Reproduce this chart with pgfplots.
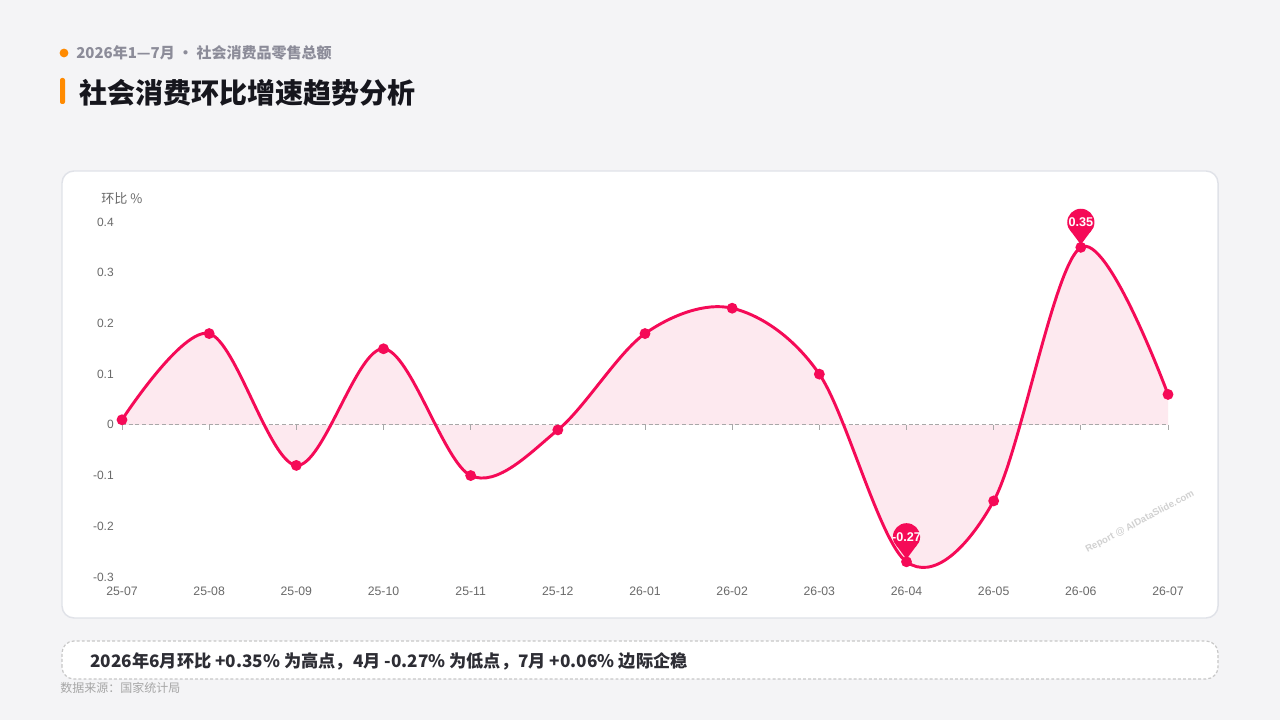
\documentclass[border=0pt]{standalone}
\usepackage{pgfplots}
\pgfplotsset{compat=1.18}
\usepackage{pgfplotstable}
\usepgfplotslibrary{fillbetween}
\usepackage{fontspec}
\setmainfont{Liberation Sans}
\newfontfamily\cjk{Noto Sans CJK SC}

\definecolor{bg}{HTML}{F4F4F6}
\definecolor{cardline}{HTML}{E0E2E8}
\definecolor{linec}{HTML}{F50A57}
\definecolor{fillc}{HTML}{FDE9EF}
\definecolor{orangec}{HTML}{FF8A00}
\definecolor{subgray}{HTML}{8C8C99}
\definecolor{titlec}{HTML}{16161D}
\definecolor{tickc}{HTML}{6A6A6A}
\definecolor{gridc}{HTML}{EBEBEB}
\definecolor{zeroc}{HTML}{A8A8A8}

% month index, MoM growth (%)
\pgfplotstableread{
x y
0 0.01
1 0.18
2 -0.08
3 0.15
4 -0.10
5 -0.01
6 0.18
7 0.23
8 0.10
9 -0.27
10 -0.15
11 0.35
12 0.06
}\mom

% value pin above a data point
\newcommand\pin[3]{%
  \fill[linec] ([yshift=2pt]axis cs:#1,#2) -- ([xshift=-7.4pt,yshift=12pt]axis cs:#1,#2)
     -- ([xshift=7.4pt,yshift=12pt]axis cs:#1,#2) -- cycle;
  \fill[linec] ([yshift=18.75pt]axis cs:#1,#2) circle (10.2pt);
  \node[text=white, inner sep=0pt, font=\bfseries\fontsize{9.5pt}{11pt}\selectfont]
    at ([yshift=18.75pt]axis cs:#1,#2) {#3};%
}

\begin{document}
\begin{tikzpicture}
% page and card (1px = 0.75pt)
\fill[bg] (0,0) rectangle (960pt,540pt);
\filldraw[fill=white, draw=cardline, line width=1.1pt, rounded corners=9pt]
  (46.5pt,76.5pt) rectangle (913.5pt,411.75pt);

% header
\fill[orangec] (48pt,500.25pt) circle (3.3pt);
\node[anchor=west, inner sep=0pt, text=subgray, font=\cjk\bfseries\fontsize{11.25pt}{14pt}\selectfont]
  at (57pt,500.25pt) {2026年1—7月 • 社会消费品零售总额};
\fill[orangec, rounded corners=1.5pt] (45pt,462pt) rectangle (48.75pt,481.5pt);
\node[anchor=west, inner sep=0pt, text=titlec, font=\cjk\bfseries\fontsize{21pt}{25pt}\selectfont]
  at (59.5pt,470.25pt) {社会消费环比增速趋势分析};

% y axis name
\node[anchor=west, inner sep=0pt, text=tickc, font=\cjk\fontsize{9.8pt}{12pt}\selectfont]
  at (75.75pt,390.75pt) {环比 \%};

\begin{axis}[
    at={(91.5pt,107.25pt)}, anchor=south west,
    scale only axis, width=784.5pt, height=266.25pt,
    xmin=0, xmax=12, ymin=-0.3, ymax=0.4,
    clip=false,
    axis line style={draw=none},
    major tick length=0pt,
    xtick={0,...,12},
    xticklabels={25-07,25-08,25-09,25-10,25-11,25-12,26-01,26-02,26-03,26-04,26-05,26-06,26-07},
    ytick={-0.3,-0.2,-0.1,0,0.1,0.2,0.3,0.4},
    yticklabels={-0.3,-0.2,-0.1,0,0.1,0.2,0.3,0.4},
    ymajorgrids=true,
    grid style={gridc, line width=0.75pt},
    xticklabel style={anchor=north, inner sep=0pt, yshift=-7.5pt, text=tickc, font=\fontsize{9.2pt}{11pt}\selectfont},
    yticklabel style={anchor=east, inner sep=0pt, xshift=-6pt, text=tickc, font=\fontsize{9pt}{11pt}\selectfont},
    fill between/on layer=main,
]
\addplot[name path=zero, draw=none, forget plot] coordinates {(0,0) (12,0)};
\addplot[name path=curve, draw=none, smooth, tension=0.55, forget plot] table[x=x, y=y] {\mom};
\addplot[fillc, draw=none] fill between[of=curve and zero];

% dashed zero line with small ticks
\draw[zeroc, line width=0.75pt, dash pattern=on 3pt off 2pt] (axis cs:0,0) -- (axis cs:12,0);
\pgfplotsinvokeforeach{0,...,12}{\draw[zeroc, line width=0.75pt] (axis cs:#1,0) -- ([yshift=-3.75pt]axis cs:#1,0);}

\addplot[linec, line width=2.2pt, smooth, tension=0.55,
  mark=*, mark size=2.9pt, mark options={solid, fill=linec, draw=none}]
  table[x=x, y=y] {\mom};

% pins at the high and the low
\pin{11}{0.35}{0.35}
\pin{9}{-0.27}{-0.27}
\end{axis}

% watermark
\node[rotate=28, text=black!18, font=\bfseries\fontsize{7.2pt}{8pt}\selectfont]
  at (855pt,148.5pt) {Report @ AIDataSlide.com};

% summary box
\filldraw[fill=white, draw=black!22, line width=0.9pt, dash pattern=on 2.2pt off 1.6pt, rounded corners=9pt]
  (46.5pt,30.75pt) rectangle (913.5pt,59.25pt);
\node[anchor=west, inner sep=0pt, text=titlec!90, font=\cjk\bfseries\fontsize{12.9pt}{16pt}\selectfont]
  at (67.5pt,44.25pt) {2026年6月环比 +0.35\% 为高点，4月 -0.27\% 为低点，7月 +0.06\% 边际企稳};
\node[anchor=west, inner sep=0pt, text=black!35, font=\cjk\fontsize{9pt}{11pt}\selectfont]
  at (45pt,24pt) {数据来源：国家统计局};
\end{tikzpicture}
\end{document}
